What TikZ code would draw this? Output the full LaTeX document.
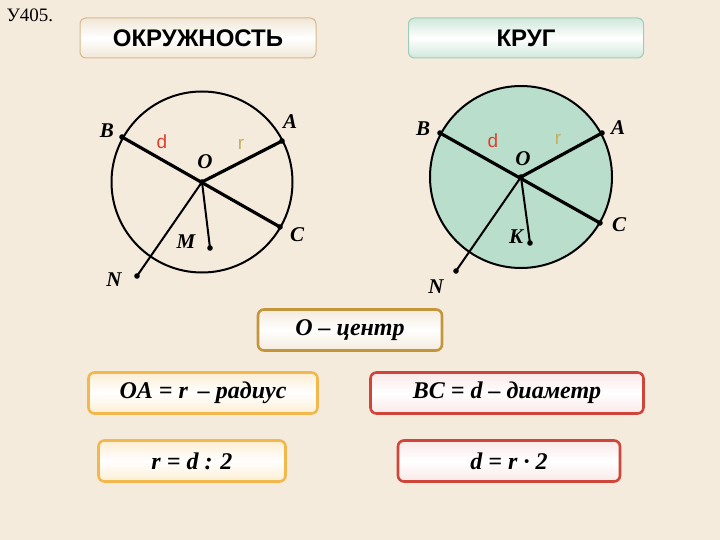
\documentclass[tikz,border=0pt]{standalone}
\usepackage{fontspec}
\setmainfont{Liberation Serif}
\setsansfont{Liberation Sans}
\usetikzlibrary{positioning}

\definecolor{bg}{RGB}{245,235,221}
\definecolor{mint}{RGB}{186,222,204}
\definecolor{tanline}{RGB}{214,184,140}
\definecolor{mintline}{RGB}{160,204,180}
\definecolor{goldline}{RGB}{196,150,60}
\definecolor{amber}{RGB}{242,184,75}
\definecolor{brick}{RGB}{208,69,58}
\definecolor{dcol}{RGB}{222,64,44}
\definecolor{rcol}{RGB}{196,176,96}

\tikzset{
  lab/.style={font=\fontsize{21}{21}\selectfont\bfseries\itshape},
  dr/.style={font=\sffamily\fontsize{19}{19}\selectfont},
  diam/.style={line width=3.2pt},
  rad/.style={line width=2pt},
  banner/.style 2 args={draw=#1,line width=1pt,rounded corners=6pt,
    top color=#2,bottom color=#2,middle color=white,
    minimum height=40pt,font=\sffamily\bfseries\fontsize{24}{24}\selectfont},
  rule/.style 2 args={draw=#1,line width=2.6pt,rounded corners=6pt,
    top color=#2,bottom color=#2,middle color=white,
    minimum height=41pt,font=\bfseries\itshape\fontsize{24}{24}\selectfont}
}

\begin{document}
\begin{tikzpicture}[x=1pt,y=-1pt]
\useasboundingbox (0,0) rectangle (720,540);
\fill [bg] (0,0) rectangle (720,540);

\node [right,font=\fontsize{19}{19}\selectfont] (task) at (3,15) {У405.};

% the banners
\node [banner={tanline}{tanline!35}, minimum width=236pt] (okr) at (198,38) {ОКРУЖНОСТЬ};
\node [banner={mintline}{mint!70}, minimum width=235pt] (krug) at (526,38) {КРУГ};

% the circle on the left
\coordinate (O1) at (202,182);
\coordinate (A1) at (282,141);
\coordinate (B1) at (122,137);
\coordinate (C1) at (280,227);
\coordinate (M1) at (210,248);
\coordinate (N1) at (137,276);
\draw [rad] (O1) circle (90.5);
\draw [diam] (B1)--(C1);
\draw [diam] (O1)--(A1);
\draw [rad] (O1)--(M1);
\draw [rad] (O1)--(N1);
\foreach \p in {O1,A1,B1,C1,M1,N1} \fill (\p) circle (2.8);
\node [lab] (lB1) at (107,131) {B};
\node [lab] (lA1) at (290,122) {A};
\node [lab] (lC1) at (297,235) {C};
\node [lab] (lO1) at (205,162) {O};
\node [lab] (lM1) at (186,242) {M};
\node [lab] (lN1) at (114,280) {N};
\node [dr,dcol] (ld1) at (162,142) {d};
\node [dr,rcol] (lr1) at (241,144) {r};

% the disc on the right
\coordinate (O2) at (521,177);
\coordinate (A2) at (602,133);
\coordinate (B2) at (440,133);
\coordinate (C2) at (600,223);
\coordinate (K2) at (530,243);
\coordinate (N2) at (456,271);
\draw [rad,fill=mint] (O2) circle (91);
\draw [diam] (B2)--(C2);
\draw [diam] (O2)--(A2);
\draw [rad] (O2)--(K2);
\draw [rad] (O2)--(N2);
\foreach \p in {O2,A2,B2,C2,K2,N2} \fill (\p) circle (2.8);
\node [lab] (lB2) at (423,129) {B};
\node [lab] (lA2) at (618,128) {A};
\node [lab] (lC2) at (619,225) {C};
\node [lab] (lO2) at (523,159) {O};
\node [lab] (lK2) at (516,237) {K};
\node [lab] (lN2) at (436,287) {N};
\node [dr,dcol] (ld2) at (493,141) {d};
\node [dr,rcol] (lr2) at (558,139) {r};

% the rules
\node [rule={goldline}{bg}, minimum width=184pt] (centre) at (350,330) {О – центр};
\node [rule={amber}{amber!25}, minimum width=229pt] (radius) at (203,393) {OA = r \,– радиус};
\node [rule={brick}{brick!12}, minimum width=273pt] (diameter) at (507,393) {BC = d – диаметр};
\node [rule={amber}{amber!25}, minimum width=187pt] (half) at (192,461) {r = d : 2};
\node [rule={brick}{brick!12}, minimum width=222pt] (double) at (509,461) {d = r · 2};

\end{tikzpicture}
\end{document}
